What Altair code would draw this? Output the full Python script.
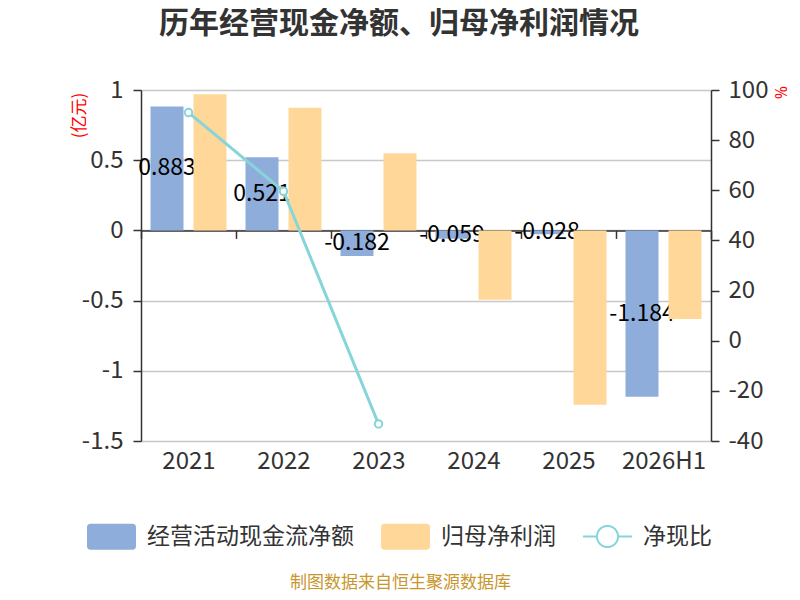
import altair as alt
import pandas as pd

# ---- data ----
years = ["2021", "2022", "2023", "2024", "2025", "2026H1"]
ocf = [0.883, 0.521, -0.182, -0.059, -0.028, -1.184]          # 经营活动现金流净额 (亿元)
net_profit = [0.970, 0.874, 0.549, -0.494, -1.241, -0.631]    # 归母净利润 (亿元)
ratio = [91.0, 59.6, -33.2, None, None, None]                 # 净现比 (%)

S1, S2, S3 = "经营活动现金流净额", "归母净利润", "净现比"
TITLE = "历年经营现金净额、归母净利润情况"
FOOTER = "制图数据来自恒生聚源数据库"

BLUE, ORANGE, TEAL = "#8EADDB", "#FFD899", "#86D5D8"
AX = "#333333"
CJK = "Noto Sans CJK SC"
NUM = "Noto Sans CJK SC"

bar_df = pd.DataFrame({
    "year": years * 2,
    "series": [S1] * len(years) + [S2] * len(years),
    "value": ocf + net_profit,
})
label_df = pd.DataFrame({
    "year": years,
    "series": [S1] * len(years),
    "value": ocf,
    "label": [f"{v:.3f}" for v in ocf],
})
line_df = pd.DataFrame({
    "year": years,
    "series": [S3] * len(years),
    "ratio": ratio,
}).dropna()

W, H = 570, 351
zero_px = H * (1 - 0) / 2.5  # y pixel of 0 on left scale (domain 1 .. -1.5)

RECT = ("M-0.85,-0.53L0.85,-0.53Q1,-0.53,1,-0.38L1,0.38Q1,0.53,0.85,0.53"
        "L-0.85,0.53Q-1,0.53,-1,0.38L-1,-0.38Q-1,-0.53,-0.85,-0.53Z")
LINESYM = ("M-1,0L-0.43,0M0.43,0L1,0M-0.43,0A0.43,0.43,0,1,1,0.43,0"
           "A0.43,0.43,0,1,1,-0.43,0")

bar_legend = alt.Legend(
    orient="none", direction="horizontal", legendX=-55, legendY=421,
    title=None, labelFont=CJK, labelFontSize=23, labelColor=AX, labelLimit=400,
    symbolType=RECT, symbolSize=2401, symbolOpacity=1, labelOffset=10, columnPadding=26,
)
line_legend = alt.Legend(
    orient="none", direction="horizontal", legendX=441, legendY=421,
    title=None, labelFont=CJK, labelFontSize=23, labelColor=AX, labelLimit=400,
    symbolType=LINESYM, symbolSize=2401, symbolStrokeColor=TEAL, symbolFillColor="#ffffff",
    symbolStrokeWidth=2, symbolOpacity=1, labelOffset=10,
)

x_enc = alt.X(
    "year:N", sort=years,
    scale=alt.Scale(domain=years, paddingInner=0, paddingOuter=0),
    axis=alt.Axis(
        title=FOOTER, orient="bottom", offset=zero_px - H,
        domainColor=AX, domainWidth=1.5, tickColor=AX, tickWidth=1.5, tickSize=8,
        tickBand="extent", labelAngle=0, labelPadding=211, labelFont=NUM,
        labelFontSize=24, labelColor=AX,
        titleFont=CJK, titleFontSize=17, titleFontWeight="normal", titleColor="#C8962D",
        titleX=259, titleY=352, titleAlign="center", titleBaseline="middle",
    ),
)

xoff = alt.XOffset("series:N", scale=alt.Scale(domain=[S1, S2], paddingInner=0.2326, paddingOuter=0.221))

y_left = alt.Y(
    "value:Q",
    scale=alt.Scale(domain=[-1.5, 1], nice=False, zero=False),
    axis=alt.Axis(
        values=[-1.5, -1, -0.5, 0, 0.5, 1], labelExpr="toString(datum.value)",
        grid=True, gridColor="#C8C8C8", gridWidth=1.5,
        domainColor=AX, domainWidth=1.5, tickColor=AX, tickWidth=1.5, tickSize=8,
        labelPadding=10, labelFont=NUM, labelFontSize=24, labelColor=AX,
        title="(亿元)", titleFont=CJK, titleFontSize=17, titleFontWeight="normal",
        titleColor="#FF0000", titleX=-62, titleY=25, titleAngle=-90,
        titleAlign="center", titleBaseline="middle",
    ),
)

color_enc = alt.Color("series:N", scale=alt.Scale(domain=[S1, S2], range=[BLUE, ORANGE]), legend=bar_legend)

bars_ocf = alt.Chart(bar_df).transform_filter(
    alt.datum.series == S1
).mark_bar().encode(x=x_enc, xOffset=xoff, y=y_left, color=color_enc)

bars_np = alt.Chart(bar_df).transform_filter(
    alt.datum.series == S2
).mark_bar().encode(x=alt.X("year:N", sort=years), xOffset=alt.XOffset("series:N"),
                    y=alt.Y("value:Q"), color=color_enc)

labels = alt.Chart(label_df).transform_calculate(
    mid="datum.value / 2"
).mark_text(font=NUM, fontSize=23, color="#000000", align="center", baseline="middle").encode(
    x=alt.X("year:N", sort=years), xOffset=alt.XOffset("series:N"),
    y=alt.Y("mid:Q"), text="label:N",
)

left = alt.layer(bars_ocf, labels, bars_np)

y_right = alt.Y(
    "ratio:Q",
    scale=alt.Scale(domain=[-40, 100], nice=False, zero=False),
    axis=alt.Axis(
        orient="right", values=list(range(-40, 101, 20)), labelExpr="toString(datum.value)",
        grid=False, domainColor=AX, domainWidth=1.5, tickColor=AX, tickWidth=1.5, tickSize=8,
        labelPadding=9, labelFont=NUM, labelFontSize=24, labelColor=AX,
        title="%", titleFont="Open Sans", titleFontSize=16, titleFontWeight="normal",
        titleColor="#FF0000", titleX=68, titleY=2, titleAngle=90,
        titleAlign="center", titleBaseline="middle",
    ),
)

line = alt.Chart(line_df).mark_line(strokeWidth=3, color=TEAL).encode(
    x=alt.X("year:N", sort=years), y=y_right,
    strokeDash=alt.StrokeDash("series:N", scale=alt.Scale(domain=[S3], range=[[1, 0]]), legend=line_legend),
)
points = alt.Chart(line_df).mark_point(
    shape="circle", filled=True, fill="#ffffff", stroke=TEAL, strokeWidth=2, size=56, opacity=1
).encode(x=alt.X("year:N", sort=years), y=alt.Y("ratio:Q"))

right = alt.layer(line, points)

chart = alt.layer(left, right).resolve_scale(y="independent").properties(
    width=W, height=H,
    autosize=alt.AutoSizeParams(type="none"),
    padding={"left": 133, "top": 82, "right": 81, "bottom": 151},
    title=alt.Title(
        TITLE, font=CJK, fontSize=30, fontWeight="bold", color=AX,
        anchor="middle", frame="group", dx=-27, offset=39,
    ),
).configure_view(stroke=None).configure(background="#ffffff").configure_legend(padding=0)

chart.save("out.html", embed_options={"renderer": "svg", "actions": False})
